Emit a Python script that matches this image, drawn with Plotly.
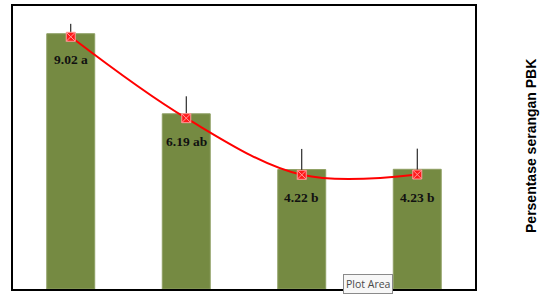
import plotly.graph_objects as go

categories = ["P1", "P2", "P3", "P4"]
bar_values = [9.02, 6.19, 4.22, 4.23]
line_values = [9.02, 6.19, 4.22, 4.23]
error_plus = [0.45, 0.76, 0.90, 0.90]
value_labels = ["9.02 a", "6.19 ab", "4.22 b", "4.23 b"]

fig = go.Figure()

fig.add_trace(go.Bar(
    x=categories, y=bar_values,
    marker=dict(color="#758A42", line=dict(color="#8E9F63", width=1)),
    width=0.415, showlegend=False, hoverinfo="skip",
))

fig.add_trace(go.Scatter(
    x=categories, y=line_values, yaxis="y2",
    mode="lines+markers",
    line=dict(color="#FF0000", width=2, shape="spline", smoothing=1),
    marker=dict(symbol="square-x", size=9, color="#FF1A1A",
                line=dict(color="#FF9A9A", width=1)),
    error_y=dict(type="data", array=error_plus, arrayminus=[0]*4, symmetric=False,
                 color="black", thickness=1, width=0),
    showlegend=False, hoverinfo="skip",
))

for c, v, t in zip(categories, line_values, value_labels):
    fig.add_annotation(x=c, y=v, yref="y2", text="<b>%s</b>" % t, showarrow=False,
                       yshift=-23, font=dict(family="Liberation Serif", size=13.5, color="#111111"))

fig.add_annotation(xref="paper", yref="paper", x=1.121, y=0.505,
                   xanchor="center", yanchor="middle",
                   text="<b>Persentase serangan PBK</b>", textangle=-90, showarrow=False,
                   font=dict(family="Liberation Sans", size=14, color="black"))

fig.add_annotation(xref="paper", yref="paper", x=0.768, y=0.016,
                   xanchor="center", yanchor="middle",
                   text="Plot Area", showarrow=False,
                   bgcolor="#F7F7F7", bordercolor="#8A8A8A", borderwidth=1, borderpad=2,
                   font=dict(family="Open Sans", size=10.5, color="#4A4A4A"))

fig.update_layout(
    width=540, height=308,
    margin=dict(l=13, r=65, t=4, b=19),
    paper_bgcolor="white", plot_bgcolor="white",
    xaxis=dict(showticklabels=False, ticks="", showgrid=False, zeroline=False,
               showline=True, linecolor="black", linewidth=2, mirror=True),
    yaxis=dict(range=[0, 10], showticklabels=False, ticks="", showgrid=False, zeroline=False,
               showline=True, linecolor="black", linewidth=2, mirror=True),
    yaxis2=dict(range=[0.25, 10.09], overlaying="y", side="right", showticklabels=False,
                ticks="", showgrid=False, zeroline=False, showline=False),
)

fig.write_html("out.html", config={"displayModeBar": False},
               post_script="document.body.style.margin='0';")
